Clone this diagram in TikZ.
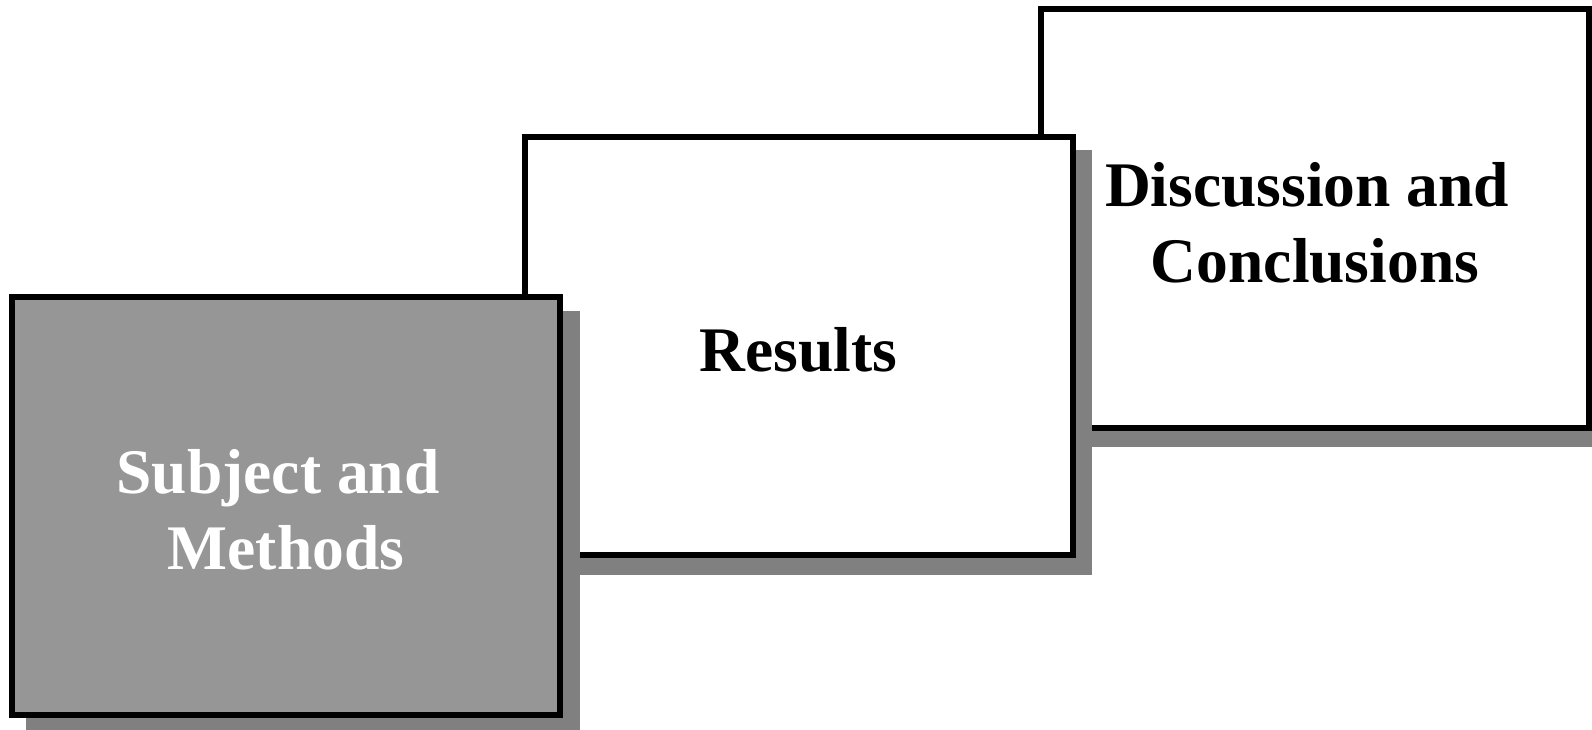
\documentclass[tikz,border=0pt]{standalone}
\usepackage{fontspec}
\setmainfont{Liberation Serif}
\definecolor{panelgray}{RGB}{150,150,150}
\definecolor{shadowgray}{RGB}{128,128,128}
\begin{document}
\begin{tikzpicture}[x=1pt,y=-1pt,
  panel/.style={draw=black, line width=6pt, rectangle,
    minimum width=548pt, minimum height=418pt, inner sep=0pt},
  caption/.style={align=center, inner sep=0pt,
    font=\fontsize{63.5}{76}\selectfont\bfseries},
  shade/.style={fill=shadowgray}]
\useasboundingbox (0,0) rectangle (1592,730);
% each panel: its geometry, then its drop shadow, then the framed panel and its caption
% back panel
\path (1315,218.5) node[panel, draw=none] (discgeom) {};
\fill[shade] ([shift={(16.5,16.5)}]discgeom.north west) rectangle ([shift={(16.5,16.5)}]discgeom.south east);
\node[panel, fill=white] (disc) at (discgeom.center) {};
\node[caption] (disctext) at ([yshift=-4pt]disc.center) {Discussion and\kern.25em\\Conclusions};
% middle panel
\path (798.5,346) node[panel, draw=none] (resgeom) {};
\fill[shade] ([shift={(16.5,16.5)}]resgeom.north west) rectangle ([shift={(16.5,16.5)}]resgeom.south east);
\node[panel, fill=white] (res) at (resgeom.center) {};
\node[caption] (restext) at ([yshift=-4pt]res.center) {Results};
% front panel
\path (286,506) node[panel, draw=none] (subjgeom) {};
\fill[shade] ([shift={(16.5,16.5)}]subjgeom.north west) rectangle ([shift={(16.5,16.5)}]subjgeom.south east);
\node[panel, fill=panelgray] (subj) at (subjgeom.center) {};
\node[caption, text=white] (subjtext) at ([yshift=-4pt]subj.center) {Subject and\kern.25em\\Methods};
\end{tikzpicture}
\end{document}
